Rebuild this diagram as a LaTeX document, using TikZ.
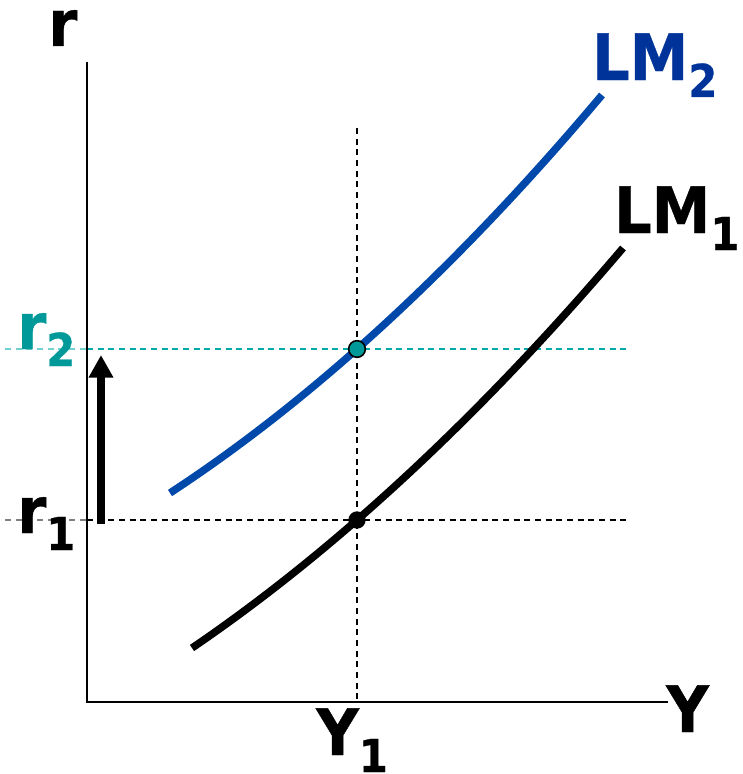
\documentclass[tikz,border=0pt]{standalone}
\usepackage{fontspec}
\setmainfont{DejaVu Sans}[FakeStretch=0.92, BoldFeatures={FakeBold=0.6}]
\usetikzlibrary{arrows.meta}
\definecolor{lmblue}{RGB}{0,72,170}
\definecolor{lmlabel}{RGB}{0,51,153}
\definecolor{tealtxt}{RGB}{0,153,153}
\definecolor{tealdash}{RGB}{0,170,170}
\newcommand{\lbl}[2]{#1\raisebox{-12.75pt}{\fontsize{34}{34}\selectfont #2}}
\tikzset{
  axisline/.style={line width=1.7pt},
  guide/.style={line width=1.1pt, dash pattern=on 4.5pt off 3.5pt},
  curveline/.style={line width=5.6pt},
  biglabel/.style={font=\fontsize{48}{48}\selectfont\bfseries, inner sep=0pt, anchor=base west},
}
\begin{document}
\begin{tikzpicture}[x=0.75pt,y=-0.75pt]
\useasboundingbox (0,0) rectangle (742,774);
% axes
\coordinate (O) at (87,702);
\coordinate (ytop) at (87,62);
\coordinate (xend) at (668,702);
% guides
\coordinate (r2l) at (5,349);
\coordinate (r2m) at (87,349);
\coordinate (r2r) at (630,349);
\coordinate (r1l) at (5,520);
\coordinate (r1m) at (87,520);
\coordinate (r1r) at (630,520);
\coordinate (vt) at (357,128);
\coordinate (vb) at (357,702);
\draw[guide, tealdash!55] (r2l) -- (r2m);
\draw[guide, tealdash] (r2m) -- (r2r);
\draw[guide, black!50] (r1l) -- (r1m);
\draw[guide] (r1m) -- (r1r);
\draw[guide] (vt) -- (vb);
\draw[axisline] (ytop) -- (O) -- (xend);
% curves
\coordinate (lm2a) at (170,493);
\coordinate (lm2b) at (602,95);
\coordinate (lm1a) at (192,648);
\coordinate (lm1b) at (623,248);
\draw[curveline, lmblue] (lm2a) .. controls (314,398.7) and (458,266.1) .. (lm2b);
\draw[curveline] (lm1a) .. controls (335.7,550.1) and (479.3,416.8) .. (lm1b);
% points
\node[circle, draw=black, line width=1.2pt, fill=tealtxt, minimum size=12.5pt, inner sep=0pt] (e2) at (357,349) {};
\node[circle, fill=black, minimum size=13pt, inner sep=0pt] (e1) at (357,520) {};
% arrow
\coordinate (arb) at (101,524);
\coordinate (art) at (101,355);
\draw[line width=6.5pt, -{Triangle[length=17pt,width=17.5pt]}] (arb) -- (art);
% labels
\node[biglabel] (rl) at (48,46) {r};
\node[biglabel] (yl) at (666,732) {Y};
\node[biglabel] (y1) at (316,755) {\lbl{Y}{1}};
\node[biglabel] (r1) at (17,533) {\lbl{r}{1}};
\node[biglabel, text=tealtxt] (r2) at (17,349) {\lbl{r}{2}};
\node[biglabel, text=lmlabel] (lm2) at (592,80) {\lbl{LM}{2}};
\node[biglabel] (lm1) at (614,233) {\lbl{LM}{1}};
\end{tikzpicture}
\end{document}
